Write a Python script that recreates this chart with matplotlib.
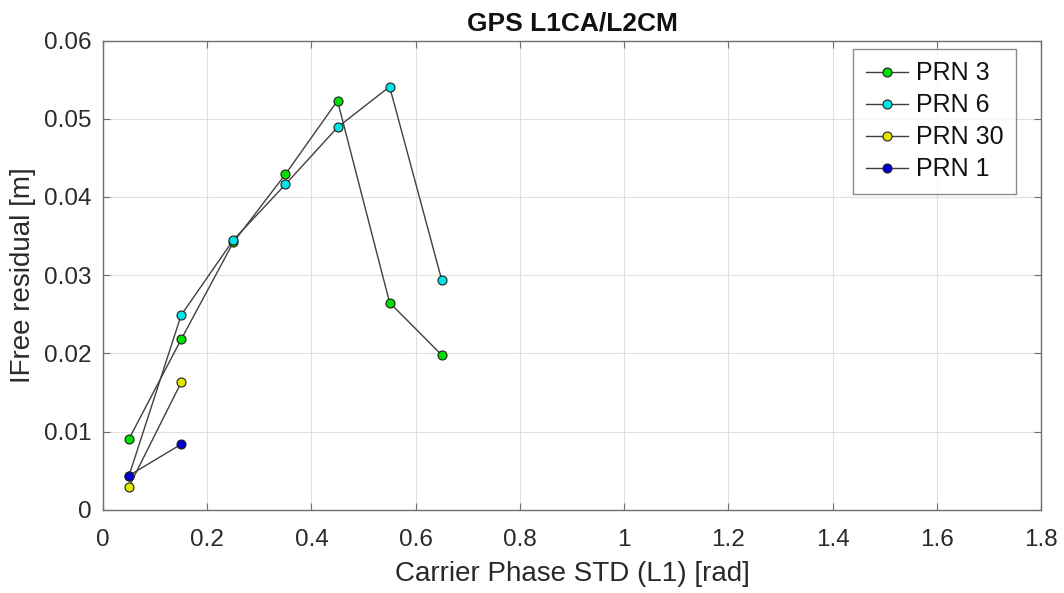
import matplotlib
matplotlib.use("Agg")
import matplotlib.pyplot as plt

plt.rcParams["font.family"] = ["Liberation Sans", "DejaVu Sans"]

# carrier phase STD bins [rad]
x_prn3 = [0.05, 0.15, 0.25, 0.35, 0.45, 0.55, 0.65]
y_prn3 = [0.0091, 0.0218, 0.0342, 0.0429, 0.0523, 0.0265, 0.0198]
x_prn6 = [0.05, 0.15, 0.25, 0.35, 0.45, 0.55, 0.65]
y_prn6 = [0.0044, 0.0249, 0.0345, 0.0416, 0.0489, 0.0541, 0.0294]
x_prn30 = [0.05, 0.15]
y_prn30 = [0.0030, 0.0163]
x_prn1 = [0.05, 0.15]
y_prn1 = [0.0044, 0.0084]

series = [
    ("PRN 3", x_prn3, y_prn3, "#00dd00"),
    ("PRN 6", x_prn6, y_prn6, "#00e5e5"),
    ("PRN 30", x_prn30, y_prn30, "#e5e500"),
    ("PRN 1", x_prn1, y_prn1, "#0000cc"),
]

AX_COL = "#6e6e6e"
TXT_COL = "#2a2a2a"

fig = plt.figure(figsize=(10.64, 5.93), dpi=100)
ax = fig.add_axes([0.0968, 0.1400, 0.8816, 0.7917])

for label, xs, ys, col in series:
    ax.plot(xs, ys, "-o", color="#404040", lw=1.0, marker="o", ms=6.5,
            markerfacecolor=col, markeredgecolor="#202020", markeredgewidth=0.8,
            label=label)

ax.set_xlim(0, 1.8)
ax.set_ylim(0, 0.06)
ax.set_xticks([0, 0.2, 0.4, 0.6, 0.8, 1, 1.2, 1.4, 1.6, 1.8])
ax.set_xticklabels(["0", "0.2", "0.4", "0.6", "0.8", "1", "1.2", "1.4", "1.6", "1.8"])
ax.set_yticks([0, 0.01, 0.02, 0.03, 0.04, 0.05, 0.06])
ax.set_yticklabels(["0", "0.01", "0.02", "0.03", "0.04", "0.05", "0.06"])
ax.grid(True, color="#e0e0e0", lw=0.8)
ax.set_axisbelow(True)
ax.tick_params(direction="in", top=True, right=True, labelsize=17.5, length=5,
               color=AX_COL, labelcolor=TXT_COL, pad=8)
ax.tick_params(axis="x", pad=14)
for s in ax.spines.values():
    s.set_color(AX_COL)
    s.set_linewidth(1.0)

ax.set_xlabel("Carrier Phase STD (L1) [rad]", fontsize=20, color=TXT_COL, labelpad=7)
ax.set_ylabel("IFree residual [m]", fontsize=20, color=TXT_COL, labelpad=6)
ax.set_title("GPS L1CA/L2CM", fontsize=19, fontweight="bold", pad=7, color="#111111")

leg = ax.legend(loc="upper right", fontsize=18, frameon=True, fancybox=False,
                edgecolor=AX_COL, handlelength=1.7, borderpad=0.5,
                labelspacing=0.32, handletextpad=0.3, borderaxespad=0,
                bbox_to_anchor=(0.973, 0.982))
leg.get_frame().set_linewidth(1.0)
for t in leg.get_texts():
    t.set_color("#111111")

fig.savefig("out.png", dpi=100)
